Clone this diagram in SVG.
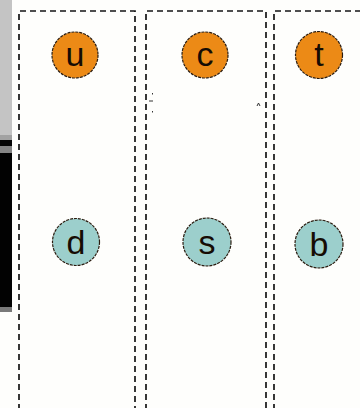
<svg xmlns="http://www.w3.org/2000/svg" width="360" height="408" viewBox="0 0 360 408">
  <style>
    .lane { fill: none; stroke: #141414; stroke-width: 1.7; stroke-dasharray: 6 4; }
    .up { fill: #ec8a16; }
    .down { fill: #9ccfcc; }
    .q { stroke: #2a1c10; stroke-width: 1.2; stroke-dasharray: 3 1; }
    .lbl { font-family: "Liberation Sans", Arial, sans-serif; font-size: 34px; fill: #160c04; text-anchor: middle; }
    .tick { fill: none; stroke: #333; stroke-width: 1; }
  </style>
  <rect x="0" y="0" width="360" height="408" fill="#fefefc"/>

  <!-- window edge on the left -->
  <g id="edge">
    <rect x="0" y="0" width="12" height="135" fill="#c4c4c4"/>
    <rect x="0" y="135" width="12" height="5" fill="#a2a2a2"/>
    <rect x="0" y="140" width="12" height="6" fill="#050505"/>
    <rect x="0" y="146" width="12" height="7" fill="#858585"/>
    <rect x="0" y="153" width="12" height="154" fill="#020202"/>
    <rect x="0" y="307" width="12" height="5" fill="#7a7a7a"/>
  </g>

  <!-- generation columns -->
  <g id="lanes">
    <path class="lane" d="M19,420 V11 H135 V420"/>
    <path class="lane" d="M146,420 V11 H266 V420"/>
    <path class="lane" d="M274,420 V11 H370"/>
  </g>

  <g id="marks">
    <path class="tick" d="M152.5,93 v1.5 M149,101 h4 M152.5,111 v1.5 M257,106 l1.5,-3 l1.5,3"/>
  </g>

  <g id="node-u">
    <circle class="up q" cx="75" cy="55" r="23"/>
    <text class="lbl" x="75" y="66">u</text>
  </g>
  <g id="node-c">
    <circle class="up q" cx="205" cy="55" r="23"/>
    <text class="lbl" x="205" y="66">c</text>
  </g>
  <g id="node-t">
    <circle class="up q" cx="319" cy="55" r="23.5"/>
    <text class="lbl" x="319" y="66">t</text>
  </g>
  <g id="node-d">
    <circle class="down q" cx="76" cy="242" r="23.5"/>
    <text class="lbl" x="76" y="254">d</text>
  </g>
  <g id="node-s">
    <circle class="down q" cx="207" cy="242" r="24"/>
    <text class="lbl" x="207" y="254">s</text>
  </g>
  <g id="node-b">
    <circle class="down q" cx="319" cy="244" r="24"/>
    <text class="lbl" x="319" y="256">b</text>
  </g>
</svg>
